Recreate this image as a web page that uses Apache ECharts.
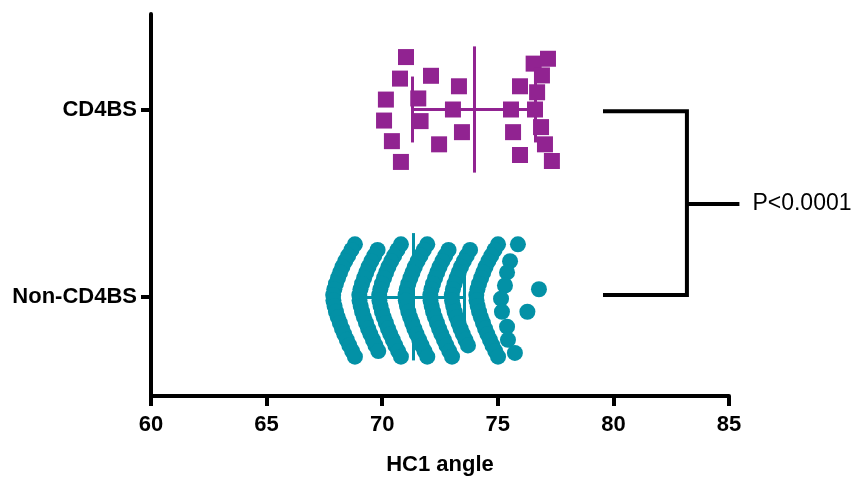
<!DOCTYPE html>
<html>
<head>
<meta charset="utf-8">
<script src="https://cdn.jsdelivr.net/npm/echarts@6/dist/echarts.min.js"></script>
<style>
  html, body { margin: 0; padding: 0; background: #fff; }
  #chart { width: 856px; height: 481px; }
</style>
</head>
<body>
<div id="chart"></div>
<script>
// categorias (fila 0 abajo, fila 1 arriba)
const categories = ["Non-CD4BS", "CD4BS"];
const xTicks = [60, 65, 70, 75, 80, 85];

// CD4BS: angulo HC1 y desplazamiento vertical del enjambre
const cd4bsAngle = [71.03, 70.77, 72.11, 70.16, 71.56, 70.08, 71.66, 73.32, 73.06, 73.45, 70.42, 72.46, 70.81,
  76.55, 77.17, 76.91, 75.96, 76.70, 75.57, 76.61, 75.66, 76.87, 77.04, 75.96, 77.34];
const cd4bsJitter = [0.28, 0.165, 0.18, 0.053, 0.059, -0.059, -0.062, 0.124, 0, -0.121, -0.169, -0.186, -0.28,
  0.245, 0.271, 0.182, 0.124, 0.092, 0, 0, -0.121, -0.094, -0.186, -0.243, -0.275];
const cd4bsMean = 73.96;
const cd4bsSD = 2.66;

// Non-CD4BS: columnas en arco, todas con las mismas filas (null = sin punto)
const nonArcJitter = [0.28, 0.25, 0.22, 0.19, 0.16, 0.13, 0.10, 0.07, 0.04, 0.01, -0.02, -0.05, -0.08, -0.11, -0.14, -0.17, -0.20, -0.23, -0.26, -0.29, -0.32];
const nonArcA = [68.82, 68.67, 68.53, 68.40, 68.28, 68.18, 68.09, 68.00, 67.93, 67.88, 67.89, 67.94, 68.00, 68.08, 68.17, 68.26, 68.36, 68.47, 68.58, 68.70, 68.82];
const nonArcB = [null, 69.80, 69.66, 69.53, 69.41, 69.31, 69.22, 69.13, 69.06, 69.01, 69.02, 69.07, 69.13, 69.21, 69.30, 69.39, 69.49, 69.60, 69.71, 69.83, null];
const nonArcC = [70.81, 70.66, 70.52, 70.39, 70.27, 70.17, 70.08, 69.99, 69.92, 69.87, 69.88, 69.93, 69.99, 70.07, 70.16, 70.25, 70.35, 70.46, 70.57, 70.69, 70.81];
const nonArcD = [71.95, 71.80, 71.66, 71.53, 71.41, 71.31, 71.22, 71.13, 71.06, 71.01, 71.02, 71.07, 71.13, 71.21, 71.30, 71.39, 71.49, 71.60, 71.71, 71.83, 71.95];
const nonArcE = [null, 72.87, 72.73, 72.60, 72.48, 72.38, 72.29, 72.20, 72.13, 72.08, 72.09, 72.14, 72.20, 72.28, 72.37, 72.46, 72.56, 72.67, 72.78, 72.90, 73.02];
const nonArcF = [null, 73.80, 73.66, 73.53, 73.41, 73.31, 73.22, 73.13, 73.06, 73.01, 73.02, 73.07, 73.13, 73.21, 73.30, 73.39, 73.49, 73.60, 73.71, null, null];
const nonArcG = [75.01, 74.86, 74.72, 74.59, 74.47, 74.37, 74.28, 74.19, 74.12, 74.07, 74.08, 74.13, 74.19, 74.27, 74.36, 74.45, 74.55, 74.66, 74.77, 74.89, 75.01];
// columna derecha y puntos sueltos
const nonEdgeAngle = [75.87, 75.53, 75.40, 75.31, 75.14, 75.18, 75.40, 75.44, 75.74, 76.78, 76.28];
const nonEdgeJitter = [0.28, 0.19, 0.13, 0.06, -0.01, -0.08, -0.16, -0.23, -0.30, 0.04, -0.08];
const nonMean = 71.35;
const nonSD = 2.2;

// corchete de significancia (x: inicio, vertical, fin del trazo; y: arriba, medio, abajo)
const bracketX = [79.55, 83.18, 85.45];
const bracketY = [0.99, 0.495, 0.01];
const pLabel = "P<0.0001";

const purple = "#912391";
const teal = "#0391A6";
const font = "Liberation Sans, Arial, sans-serif";

const nonData = [];
[nonArcA, nonArcB, nonArcC, nonArcD, nonArcE, nonArcF, nonArcG].forEach((arc) => {
  arc.forEach((a, i) => {
    if (a !== null) nonData.push([a, 0 + nonArcJitter[i]]);
  });
});
nonEdgeAngle.forEach((a, i) => nonData.push([a, 0 + nonEdgeJitter[i]]));

const cdData = cd4bsAngle.map((a, i) => [a, 1 + cd4bsJitter[i]]);

// media +- DE
function meanSdLines(mean, sd, row, meanHalf, capHalf) {
  return [
    [{ coord: [mean - sd, row] }, { coord: [mean + sd, row] }],
    [{ coord: [mean - sd, row - capHalf] }, { coord: [mean - sd, row + capHalf] }],
    [{ coord: [mean + sd, row - capHalf] }, { coord: [mean + sd, row + capHalf] }],
    [{ coord: [mean, row - meanHalf] }, { coord: [mean, row + meanHalf] }],
  ];
}

function renderBracket(params, api) {
  const tl = api.coord([bracketX[0], bracketY[0]]);
  const tr = api.coord([bracketX[1], bracketY[0]]);
  const br = api.coord([bracketX[1], bracketY[2]]);
  const bl = api.coord([bracketX[0], bracketY[2]]);
  const m0 = api.coord([bracketX[1], bracketY[1]]);
  const m1 = api.coord([bracketX[2], bracketY[1]]);
  const stroke = { stroke: "#000", lineWidth: 4, fill: null };
  return {
    type: "group",
    children: [
      { type: "polyline", shape: { points: [tl, tr, br, bl] }, style: stroke },
      { type: "line", shape: { x1: m0[0], y1: m0[1], x2: m1[0], y2: m1[1] }, style: stroke },
      {
        type: "text",
        style: {
          text: pLabel,
          x: m1[0] + 13,
          y: m1[1],
          verticalAlign: "middle",
          fill: "#000",
          font: "23px " + font,
        },
      },
    ],
  };
}

const chart = echarts.init(document.getElementById("chart"));
const option = {
  animation: false,
  grid: { left: 151, right: 127, top: 14, bottom: 83 },
  xAxis: {
    type: "value",
    min: 60,
    max: 85,
    interval: 5,
    axisLine: { onZero: false, lineStyle: { color: "#000", width: 4 } },
    axisTick: { length: 10, lineStyle: { color: "#000", width: 4 } },
    axisLabel: {
      color: "#000",
      fontSize: 22,
      fontWeight: "bold",
      fontFamily: font,
      margin: 18,
      formatter: (v) => (xTicks.includes(v) ? String(v) : ""),
    },
    splitLine: { show: false },
    name: "HC1 angle",
    nameLocation: "middle",
    nameGap: 58,
    nameTextStyle: { color: "#000", fontSize: 22, fontWeight: "bold", fontFamily: font },
  },
  yAxis: {
    type: "value",
    min: -0.53,
    max: 1.51,
    axisLine: { show: true, onZero: false, lineStyle: { color: "#000", width: 4 } },
    axisTick: { show: true, customValues: [0, 1], length: 10, lineStyle: { color: "#000", width: 4 } },
    axisLabel: {
      customValues: [0, 1],
      color: "#000",
      fontSize: 22,
      fontWeight: "bold",
      fontFamily: font,
      margin: 14,
      formatter: (v) => categories[Math.round(v)],
    },
    splitLine: { show: false },
  },
  series: [
    {
      name: "Non-CD4BS",
      type: "scatter",
      symbol: "circle",
      symbolSize: 16,
      itemStyle: { color: teal, opacity: 1 },
      data: nonData,
      silent: true,
      markLine: {
        silent: true,
        symbol: ["none", "none"],
        label: { show: false },
        lineStyle: { color: teal, width: 3, type: "solid", opacity: 1 },
        data: meanSdLines(nonMean, nonSD, 0, 0.34, 0.17),
      },
    },
    {
      name: "CD4BS",
      type: "scatter",
      symbol: "rect",
      symbolSize: 16,
      itemStyle: { color: purple, opacity: 1 },
      data: cdData,
      silent: true,
      markLine: {
        silent: true,
        symbol: ["none", "none"],
        label: { show: false },
        lineStyle: { color: purple, width: 3, type: "solid", opacity: 1 },
        data: meanSdLines(cd4bsMean, cd4bsSD, 1, 0.337, 0.176),
      },
    },
    {
      type: "custom",
      clip: false,
      silent: true,
      data: [[bracketX[1], bracketY[1]]],
      renderItem: renderBracket,
    },
  ],
};
chart.setOption(option);
</script>
</body>
</html>
